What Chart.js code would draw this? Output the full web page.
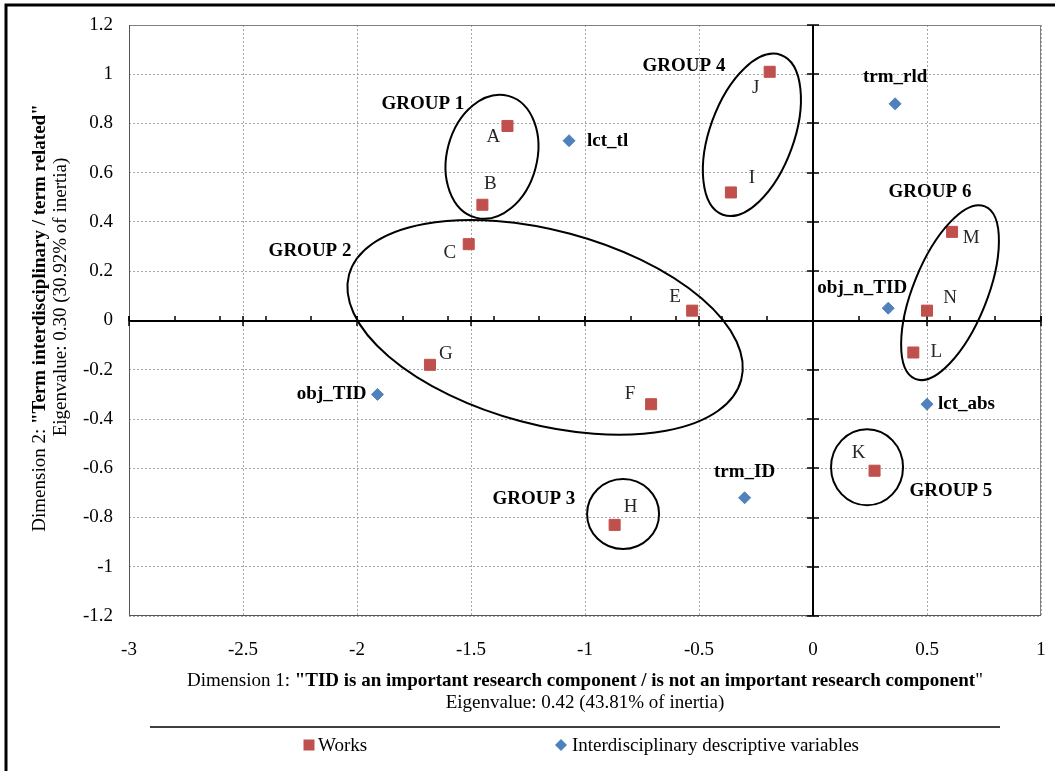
<!DOCTYPE html>
<html><head><meta charset="utf-8">
<script src="https://cdn.jsdelivr.net/npm/chart.js@4.4.0/dist/chart.umd.min.js"></script>
<style>html,body{margin:0;padding:0;background:#fff;overflow:hidden}#wrap{width:1055px;height:771px;position:relative}</style>
</head><body><div id="wrap"><canvas id="c" width="1055" height="771"></canvas></div>
<script>
// ---- data ----
const workLabels = ['A','B','C','E','F','G','H','I','J','K','L','M','N'];
const workX = [-1.34,-1.45,-1.51,-0.53,-0.71,-1.68,-0.87,-0.36,-0.19,0.27,0.44,0.61,0.50];
const workY = [0.79,0.47,0.31,0.04,-0.34,-0.18,-0.83,0.52,1.01,-0.61,-0.13,0.36,0.04];
const varLabels = ['lct_tl','trm_rld','obj_n_TID','lct_abs','trm_ID','obj_TID'];
const varX = [-1.07,0.36,0.33,0.50,-0.30,-1.91];
const varY = [0.73,0.88,0.05,-0.34,-0.72,-0.30];
const groupNames = ['GROUP 1','GROUP 2','GROUP 3','GROUP 4','GROUP 5','GROUP 6'];
const xTicks = [-3,-2.5,-2,-1.5,-1,-0.5,0,0.5,1];
const yTicks = [-1.2,-1,-0.8,-0.6,-0.4,-0.2,0,0.2,0.4,0.6,0.8,1,1.2];
const seriesNames = ['Works','Interdisciplinary descriptive variables'];
const xTitle = [{t:'Dimension 1: ',b:false},{t:'"TID is an important research component / is not an important research component',b:true},{t:'"',b:false}];
const xSub = 'Eigenvalue: 0.42 (43.81% of inertia)';
const yTitle = [{t:'Dimension 2: ',b:false},{t:'"Term interdisciplinary / term related"',b:true}];
const ySub = 'Eigenvalue: 0.30 (30.92% of inertia)';

// ---- annotation layout (positions / styles) ----
const ellipseGeom = [ // center in data units, radii px, rotation deg
  {cx:-1.408, cy:0.665, rx:45, ry:63, rot:15},
  {cx:-1.175, cy:-0.028, rx:203, ry:97, rot:15},
  {cx:-0.833, cy:-0.786, rx:36, ry:35, rot:0},
  {cx:-0.268, cy:0.754, rx:42, ry:85, rot:20},
  {cx:0.237, cy:-0.596, rx:36, ry:38, rot:0},
  {cx:0.601, cy:0.113, rx:37, ry:93, rot:22}
];
const groupLabelPos = [[-1.711,0.880],[-2.206,0.280],[-1.224,-0.726],[-0.566,1.034],[0.605,-0.693],[0.513,0.523]];
const workLabelOff = {A:[-14,11],B:[8,-21],C:[-19,9],E:[-17,-14],F:[-21,-10],G:[16,-11],H:[16,-18],I:[21,-14],J:[-14,16],K:[-16,-18],L:[23,0],M:[19,6],N:[23,-13]};
const varLabelOff = {lct_tl:[18,0,'left'],trm_rld:[0,-27,'center'],obj_n_TID:[-26,-20,'center'],lct_abs:[11,0,'left'],trm_ID:[0,-26,'center'],obj_TID:[-11,0,'right']};

const FONT = 'Liberation Serif, Times New Roman, serif';
const RED = '#C0504D', BLUE = '#4F81BD';

function richWidth(ctx, parts, size){
  let w=0; for(const p of parts){ctx.font=(p.b?'bold ':'')+size+'px '+FONT; w+=ctx.measureText(p.t).width;} return w;
}
function drawRich(ctx, parts, cx, cy, size){
  const w = richWidth(ctx, parts, size);
  let x = cx - w/2;
  ctx.textAlign='left'; ctx.textBaseline='middle';
  for(const p of parts){ctx.font=(p.b?'bold ':'')+size+'px '+FONT; ctx.fillText(p.t,x,cy); x+=ctx.measureText(p.t).width;}
}

const decor = {
  id:'decor',
  beforeDatasetsDraw(chart){
    const {ctx, chartArea:a, scales:{x,y}} = chart;
    ctx.save();
    // plot frame
    ctx.strokeStyle='#808080'; ctx.lineWidth=1;
    ctx.strokeRect(a.left+0.5, a.top+0.5, a.right-a.left-1, a.bottom-a.top-1);
    ctx.strokeStyle='#555'; ctx.beginPath();
    ctx.moveTo(a.left+0.5,a.top); ctx.lineTo(a.left+0.5,a.bottom-0.5); ctx.lineTo(a.right,a.bottom-0.5); ctx.stroke();
    // axes through origin
    const x0 = Math.round(x.getPixelForValue(0)), y0 = Math.round(y.getPixelForValue(0));
    ctx.strokeStyle='#000'; ctx.lineWidth=2;
    ctx.beginPath(); ctx.moveTo(a.left,y0); ctx.lineTo(a.right,y0); ctx.stroke();
    ctx.beginPath(); ctx.moveTo(x0,a.top); ctx.lineTo(x0,a.bottom); ctx.stroke();
    // minor ticks on horizontal axis every 0.2
    ctx.lineWidth=1.5;
    for(let i=0;i<=20;i++){
      const v=-3+i*0.2, px=Math.round(x.getPixelForValue(v));
      ctx.beginPath(); ctx.moveTo(px,y0); ctx.lineTo(px,y0-5); ctx.stroke();
    }
    for(const v of xTicks){
      const px=Math.round(x.getPixelForValue(v));
      ctx.beginPath(); ctx.moveTo(px,y0-5); ctx.lineTo(px,y0+5); ctx.stroke();
    }
    for(const v of yTicks){
      const py=Math.round(y.getPixelForValue(v));
      ctx.beginPath(); ctx.moveTo(x0-6,py); ctx.lineTo(x0+6,py); ctx.stroke();
    }
    ctx.restore();
  },
  afterDatasetsDraw(chart){
    const {ctx, scales:{x,y}} = chart;
    ctx.save();
    // ellipses
    ctx.strokeStyle='#000'; ctx.lineWidth=2;
    for(const e of ellipseGeom){
      ctx.beginPath();
      ctx.ellipse(x.getPixelForValue(e.cx), y.getPixelForValue(e.cy), e.rx, e.ry, e.rot*Math.PI/180, 0, Math.PI*2);
      ctx.stroke();
    }
    // group labels
    ctx.fillStyle='#000'; ctx.font='bold 19px '+FONT; ctx.textAlign='center'; ctx.textBaseline='middle';
    groupNames.forEach((g,i)=>ctx.fillText(g, x.getPixelForValue(groupLabelPos[i][0]), y.getPixelForValue(groupLabelPos[i][1])));
    // work labels
    ctx.font='19px '+FONT; ctx.fillStyle='#262626';
    workLabels.forEach((l,i)=>{
      const o=workLabelOff[l]||[12,-12];
      ctx.fillText(l, x.getPixelForValue(workX[i])+o[0], y.getPixelForValue(workY[i])+o[1]);
    });
    // variable labels
    ctx.font='bold 19px '+FONT; ctx.fillStyle='#000';
    varLabels.forEach((l,i)=>{
      const o=varLabelOff[l]||[10,0,'left'];
      ctx.textAlign=o[2];
      ctx.fillText(l, x.getPixelForValue(varX[i])+o[0], y.getPixelForValue(varY[i])+o[1]);
    });
    ctx.restore();
  },
  afterDraw(chart){
    const {ctx} = chart;
    ctx.save();
    ctx.fillStyle='#000';
    // x title
    drawRich(ctx, xTitle, 585, 681, 19);
    ctx.font='19px '+FONT; ctx.textAlign='center'; ctx.textBaseline='middle';
    ctx.fillText(xSub, 585, 703);
    // y title
    ctx.save(); ctx.translate(40, 318); ctx.rotate(-Math.PI/2);
    drawRich(ctx, yTitle, 0, 0, 19); ctx.restore();
    ctx.save(); ctx.translate(61, 297); ctx.rotate(-Math.PI/2);
    ctx.font='19px '+FONT; ctx.textAlign='center'; ctx.textBaseline='middle'; ctx.fillText(ySub,0,0); ctx.restore();
    // legend separator
    ctx.strokeStyle='#404040'; ctx.lineWidth=2;
    ctx.beginPath(); ctx.moveTo(150,727); ctx.lineTo(1000,727); ctx.stroke();
    // legend
    const items = chart.data.datasets;
    ctx.font='19px '+FONT; ctx.textAlign='left'; ctx.textBaseline='middle';
    ctx.fillStyle=items[0].backgroundColor; ctx.fillRect(303.5,739.5,11,11);
    ctx.fillStyle='#000'; ctx.fillText(items[0].label, 318, 746);
    ctx.fillStyle=items[1].backgroundColor;
    ctx.beginPath(); ctx.moveTo(561,739); ctx.lineTo(567,745); ctx.lineTo(561,751); ctx.lineTo(555,745); ctx.closePath(); ctx.fill();
    ctx.fillStyle='#000'; ctx.fillText(items[1].label, 572, 746);
    // outer frame
    ctx.strokeStyle='#000'; ctx.lineWidth=3;
    ctx.strokeRect(6,5,1060,780);
    ctx.restore();
  }
};

const tickFont = {family:FONT, size:19};
new Chart(document.getElementById('c'), {
  type:'scatter',
  data:{datasets:[
    {label:seriesNames[0], data:workX.map((v,i)=>({x:v,y:workY[i]})), pointStyle:'rect', pointRadius:7.8, pointHoverRadius:7.8, backgroundColor:RED, borderColor:RED, borderWidth:1},
    {label:seriesNames[1], data:varX.map((v,i)=>({x:v,y:varY[i]})), pointStyle:'rectRot', pointRadius:6, pointHoverRadius:6, backgroundColor:BLUE, borderColor:BLUE, borderWidth:1}
  ]},
  options:{
    responsive:false, animation:false, devicePixelRatio:1,
    layout:{padding:{top:25,right:14,left:0,bottom:0}},
    plugins:{legend:{display:false}, tooltip:{enabled:false}},
    scales:{
      x:{type:'linear', min:-3, max:1,
        afterBuildTicks:s=>{s.ticks=xTicks.map(v=>({value:v}));},
        afterFit:s=>{s.height=155; s.paddingLeft=0; s.paddingRight=0;},
        grid:{color:'#a6a6a6', drawTicks:false, lineWidth:1},
        border:{display:false, dash:[2,2]},
        ticks:{font:tickFont, color:'#000', padding:23, maxRotation:0, autoSkip:false, callback:v=>String(v)}},
      y:{type:'linear', min:-1.2, max:1.2,
        afterBuildTicks:s=>{s.ticks=yTicks.map(v=>({value:v}));},
        afterFit:s=>{s.width=129; s.paddingTop=0; s.paddingBottom=0;},
        grid:{color:'#a6a6a6', drawTicks:false, lineWidth:1},
        border:{display:false, dash:[2,2]},
        ticks:{font:tickFont, color:'#000', padding:16, autoSkip:false, callback:v=>String(v)}}
    }
  },
  plugins:[decor]
});
</script></body></html>
